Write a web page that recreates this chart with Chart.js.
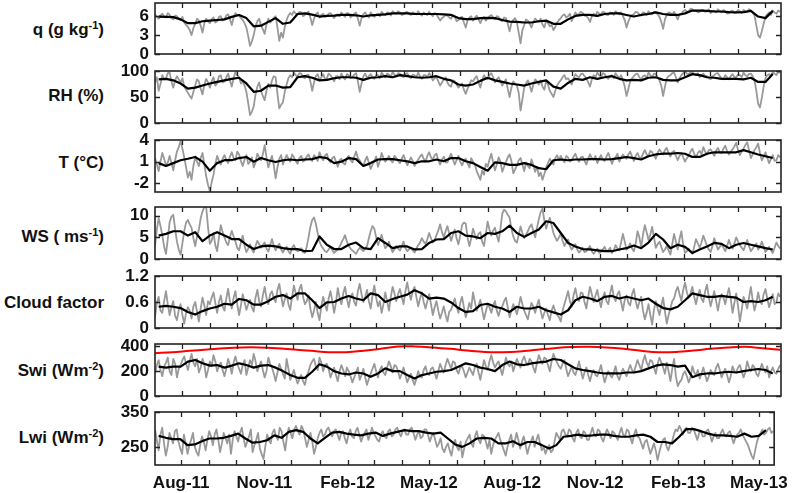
<!DOCTYPE html>
<html>
<head>
<meta charset="utf-8">
<title>Meteorological forcing time series</title>
<script src="https://cdn.jsdelivr.net/npm/chart.js@4.4.0/dist/chart.umd.min.js"></script>
<style>
  body {
    margin: 0;
    background: #fff;
    width: 796px;
    height: 493px;
    overflow: hidden;
    position: relative;
    font-family: "Liberation Sans", Arial, sans-serif;
  }
  canvas { position: absolute; left: 0; }
  .lbl {
    position: absolute;
    left: 0;
    width: 104px;
    text-align: right;
    font-weight: bold;
    font-size: 17px;
    line-height: 20px;
    color: #111;
    white-space: nowrap;
  }
  .lbl sup { font-size: 11px; line-height: 0; vertical-align: 6px; }
</style>
</head>
<body>
<div class="lbl" style="top:20px">q (g kg<sup>-1</sup>)</div>
<div class="lbl" style="top:86px">RH (%)</div>
<div class="lbl" style="top:153px">T (°C)</div>
<div class="lbl" style="top:227px">WS ( ms<sup>-1</sup>)</div>
<div class="lbl" style="top:293px">Cloud factor</div>
<div class="lbl" style="top:361px">Swi (Wm<sup>-2</sup>)</div>
<div class="lbl" style="top:428px">Lwi (Wm<sup>-2</sup>)</div>

<script>
// x values are days counted from 1 Jul 2011
const X_MIN = 2, X_MAX = 687;
const monthTickDays = [31, 62, 92, 123, 153, 184, 215, 244, 275, 305, 336, 366,
                       397, 428, 458, 489, 519, 550, 581, 609, 640, 670];
const monthTickLabels = ['Aug-11', '', '', 'Nov-11', '', '', 'Feb-12', '', '', 'May-12', '', '',
                         'Aug-12', '', '', 'Nov-12', '', '', 'Feb-13', '', '', 'May-13'];

// raw values every 2 days, running mean every 8 days, clear sky every 19 days
const GRAY_START = 2, GRAY_STEP = 2;
const MEAN_START = 6, MEAN_STEP = 8;
const CLEAR_START = 2, CLEAR_STEP = 19;

const qGray = [
  6.3,5.9,5.6,6.1,6.4,6.0,5.8,6.5,6.2,5.7,5.5,6.1,6.0,5.6,5.4,5.9,5.0,4.6,4.3,3.8,
  3.0,4.1,4.8,5.6,5.3,4.5,3.4,4.9,5.6,5.2,4.9,5.5,5.8,5.0,5.2,5.9,6.0,5.3,5.5,6.1,
  6.3,5.5,4.6,5.8,6.5,6.2,6.1,5.7,5.4,4.9,4.2,2.8,1.3,2.0,3.0,4.4,5.2,5.6,4.6,3.9,
  3.2,4.7,5.6,5.0,5.3,5.8,6.0,4.2,2.1,3.4,2.6,4.3,5.4,6.1,6.5,6.2,6.8,6.4,6.3,6.7,
  6.6,6.0,6.2,6.5,6.7,5.8,4.6,5.6,6.3,6.6,5.8,6.2,6.4,5.9,6.0,6.4,6.5,6.1,5.7,6.2,
  6.3,6.0,6.6,6.2,5.9,6.5,6.4,5.8,6.1,6.4,6.6,5.6,4.5,5.7,6.3,6.6,6.1,5.8,6.6,6.2,
  5.9,6.3,6.4,6.0,6.7,6.4,6.2,6.6,6.5,6.1,6.8,6.5,6.4,6.8,6.6,6.2,6.3,6.6,6.7,6.4,
  6.2,6.6,6.5,6.3,6.8,6.4,6.1,6.6,6.4,6.2,6.7,6.3,6.0,6.5,6.3,5.8,5.3,5.7,5.9,6.2,
  6.1,5.8,5.6,6.2,6.0,5.2,5.4,5.8,5.9,5.0,4.2,5.3,5.8,6.0,5.3,5.7,6.1,5.5,4.9,5.6,
  5.9,5.3,5.6,6.0,6.2,5.8,5.5,6.0,5.9,5.4,5.2,5.8,5.7,4.8,3.6,4.9,5.4,5.7,5.0,3.4,
  1.7,3.8,4.6,5.5,5.3,4.8,4.2,5.1,5.6,5.3,5.1,5.6,4.7,4.2,5.3,4.9,4.4,4.6,3.8,4.3,
  5.0,5.4,5.7,6.1,6.3,5.8,6.0,6.4,5.2,5.9,6.6,6.2,6.3,6.7,6.5,6.1,6.0,5.7,5.1,6.0,
  6.4,6.1,6.7,6.4,6.3,6.7,6.6,6.2,6.2,6.6,6.5,6.2,6.8,6.5,6.3,6.6,6.0,5.4,4.2,5.2,
  5.8,6.2,6.3,6.7,6.6,6.3,6.1,6.6,6.5,6.2,6.8,6.4,6.3,6.7,6.6,6.3,5.9,5.1,4.0,5.5,
  6.2,6.6,6.5,6.2,6.7,6.1,5.5,6.3,6.4,6.8,7.0,6.7,6.8,7.2,7.1,6.8,6.9,6.6,6.7,7.0,
  7.0,6.7,6.8,7.1,6.5,6.8,6.9,6.6,7.1,6.8,6.6,7.0,6.8,6.4,6.5,6.8,6.9,6.5,6.6,7.0,
  6.8,6.5,7.0,6.7,6.7,7.1,6.9,6.6,6.1,4.5,3.0,2.6,3.6,4.8,5.9,6.3,6.6,6.2,6.9,6.6,
  6.4,6.9,6.7];
const qMean = [5.95,5.9,5.85,5.5,4.9,4.9,5.2,5.3,5.4,5.5, 5.9,6.2,5.7,4.4,4.5,5.1,5.7,4.8,5.0,6.35,
  6.45,6.25,5.95,6.05,6.1,6.2,6.2,6.15,5.95,6.15, 6.2,6.3,6.45,6.45,6.45,6.35,6.35,6.35,6.35,6.3,
  6.2,5.7,5.55,5.55,5.7,5.75,5.7,5.4,5.15,5.1, 5.0,5.0,5.2,5.3,4.8,4.8,5.5,6.05,6.2,6.2,
  6.05,6.35,6.45,6.45,6.2,5.95,6.2,6.35,6.6,6.35, 6.2,6.2,6.45,6.9,6.9,6.85,6.75,6.75,6.65,6.6,
  6.65,6.85,5.95,5.7,6.85];

const rhGray = [
  78,88,62,75,92,84,85,96,97,80,68,82,90,84,78,86,70,64,58,52,
  47,60,72,84,80,66,55,74,85,78,68,80,88,72,76,90,92,78,80,88,
  95,82,70,86,98,92,88,76,80,72,60,38,15,22,32,55,70,78,62,52,
  44,62,75,68,82,90,88,56,28,35,40,60,74,86,92,88,97,92,90,96,
  95,88,86,92,93,80,62,78,90,94,82,88,94,84,86,95,92,86,80,90,
  90,84,95,88,84,94,92,86,88,93,96,80,60,76,90,95,86,90,94,88,
  85,92,92,86,97,92,88,95,93,88,98,93,90,96,95,90,88,94,96,90,
  86,93,92,88,97,90,85,92,92,88,96,90,82,86,88,80,72,78,84,88,
  78,72,70,82,80,74,68,72,76,64,56,66,74,82,80,86,90,78,68,82,
  92,86,84,92,96,88,78,84,88,80,72,78,84,66,50,68,80,76,72,58,
  24,45,68,76,82,72,60,74,84,80,74,82,70,64,80,74,62,56,50,62,
  72,78,82,88,92,84,86,80,74,86,94,90,88,94,95,90,86,78,70,84,
  92,88,97,92,88,96,94,88,85,90,92,86,96,90,86,92,82,70,52,66,
  80,86,90,94,95,88,84,90,92,86,97,92,88,95,94,88,82,72,52,70,
  86,90,92,96,97,88,78,86,92,96,99,95,94,98,98,94,92,96,88,92,
  95,90,90,86,84,90,92,95,96,90,86,84,92,88,84,90,94,88,88,93,
  92,88,97,92,90,94,95,90,82,62,37,30,48,70,86,92,94,90,98,95,
  92,98,96];
const rhMean = [84,85,82,76,66,68,72,76,79,82, 85,87,76,60,62,72,72,68,69,88,
  90,87,82,83,86,88,88,87,83,87, 88,90,88,92,90,88,87,88,90,85,
  82,74,72,74,81,87,82,79,76,74, 72,76,79,82,70,66,77,85,83,88,
  85,88,90,85,82,83,82,87,88,83, 82,82,88,94,92,88,87,85,85,85,
  84,87,79,79,94];

const tGray = [
  1.5,0.6,-0.3,1.0,2.2,1.4,0.5,0.9,1.8,0.8,-0.2,1.2,2.4,3.0,3.9,2.8,1.6,0.2,-1.2,-0.4,
  -1.5,0.4,1.6,1.0,0.4,1.5,2.2,0.6,-1.0,-2.2,-3.1,-1.9,-0.8,0.7,1.8,1.1,0.6,1.4,1.9,1.3,
  0.8,1.7,2.3,1.5,1.2,2.4,2.0,1.1,0.4,1.3,1.9,0.7,1.0,1.6,0.2,0.9,2.1,1.6,1.2,2.0,
  3.3,1.6,0.2,1.1,1.8,0.5,-1.3,0.2,1.4,1.9,0.6,1.3,1.9,1.4,1.0,2.0,1.6,1.1,0.7,1.5,
  1.8,1.0,1.2,1.7,2.0,1.4,1.1,1.9,1.6,1.1,2.3,1.6,1.2,1.8,2.1,1.3,0.9,1.5,1.7,1.0,
  0.3,1.2,1.4,0.8,0.6,1.5,1.8,1.2,0.9,1.7,2.4,1.5,1.2,0.7,0.4,1.2,1.7,0.8,0.0,0.6,
  1.1,1.7,0.3,1.1,2.2,1.5,1.0,1.4,1.8,1.2,0.9,1.8,1.5,1.1,0.8,1.4,1.9,1.2,0.5,1.0,
  1.6,1.1,0.4,0.9,1.3,1.7,2.0,1.4,1.0,1.8,2.3,1.6,1.3,1.9,2.1,1.2,0.6,1.3,1.7,0.9,
  0.9,1.6,2.1,1.3,0.6,1.2,1.8,1.0,0.5,1.1,1.4,0.8,0.2,1.5,1.0,0.6,-0.3,-0.9,-1.5,-0.2,
  -0.8,0.7,0.3,1.3,2.1,0.9,-0.2,0.6,1.6,1.0,-0.4,0.3,0.9,1.6,2.0,1.1,-0.6,-0.1,0.5,1.2,
  1.5,0.6,-0.3,0.9,0.4,0.1,1.3,0.5,-0.4,0.3,-1.0,-0.5,-1.5,-0.7,0.2,0.8,1.4,1.0,0.6,1.5,
  1.9,1.2,1.8,1.3,0.9,1.8,1.6,1.0,1.2,1.7,2.1,1.4,1.0,1.6,1.7,1.1,0.6,1.4,2.0,1.5,
  1.3,1.8,0.8,1.4,1.9,1.3,1.1,1.7,2.2,1.5,0.7,1.3,1.6,2.1,1.0,1.5,2.0,1.6,1.4,2.0,
  2.4,1.7,1.1,1.8,2.2,1.6,1.5,2.1,2.6,2.0,1.8,2.5,2.3,1.9,1.4,2.2,2.7,2.3,2.0,2.6,
  2.9,2.2,1.7,2.3,2.5,1.8,1.2,1.8,2.2,1.6,1.0,1.5,1.8,2.4,2.8,2.1,1.6,2.2,2.5,2.0,
  3.0,2.4,2.0,2.6,2.7,2.2,1.8,2.5,2.9,2.3,2.2,2.8,3.2,2.5,2.0,2.4,2.7,3.1,3.6,2.6,
  1.9,2.4,2.8,3.3,3.7,2.6,1.5,2.0,2.6,3.0,3.5,2.2,1.2,1.7,2.3,1.5,0.8,1.4,1.9,1.1,
  1.2,1.9,1.6];
const tMean = [0.8,0.4,0.8,1.2,1.4,1.65,1.0,-0.25,0.8,1.2, 1.2,1.5,1.65,1.0,1.5,1.2,0.95,1.2,1.3,1.2,
  1.3,1.35,1.65,1.5,0.8,1.0,1.5,1.35,0.4,0.8, 1.3,1.35,1.35,1.2,1.05,0.8,1.05,1.05,1.3,1.05,
  1.5,1.5,1.05,0.8,0.25,-0.25,0.9,0.8,0.55,0.55, 0.8,0.55,0.1,-0.05,1.2,1.3,1.2,1.3,1.3,1.35,
  1.35,1.3,1.35,1.5,1.65,1.5,1.3,1.75,2.0,2.1, 2.1,2.2,2.1,1.65,1.65,2.1,2.3,2.3,2.3,2.3,
  2.6,2.3,2.0,1.75,1.5];

const wsGray = [
  3.0,6.8,9.4,7.6,5.5,2.8,1.2,4.6,8.5,9.8,10.2,7.0,4.0,2.2,1.0,3.6,6.5,8.4,9.0,8.0,
  7.2,4.8,3.0,5.2,6.8,9.4,11.0,12.0,12.0,7.4,3.5,4.2,6.0,3.2,1.8,5.0,7.8,6.2,5.0,3.8,
  3.2,5.0,6.5,5.2,4.0,2.6,2.0,3.8,5.4,3.0,1.6,2.4,3.4,2.2,1.5,3.0,4.2,3.4,2.6,3.2,
  3.8,2.4,1.7,3.2,4.6,3.0,2.0,2.8,3.5,2.2,1.5,2.4,2.8,1.8,1.2,2.6,3.2,2.2,1.8,2.0,
  2.5,1.6,1.4,2.8,5.0,7.4,9.0,9.6,8.2,6.0,4.0,3.0,2.4,1.8,1.6,2.2,2.8,2.0,1.4,1.8,
  2.2,2.8,3.8,4.6,5.5,4.0,3.0,2.4,2.0,1.6,1.2,2.0,2.6,2.2,1.8,2.4,3.0,4.8,6.4,7.6,
  7.0,5.0,3.2,4.4,5.6,3.8,2.5,3.0,4.0,2.6,1.6,2.2,3.0,2.4,2.0,3.0,4.0,2.6,1.8,2.2,
  2.6,2.0,1.5,2.4,3.2,3.8,4.8,4.0,3.5,4.6,6.0,4.8,3.8,4.4,5.5,6.6,8.0,6.2,5.0,6.4,
  7.6,5.8,4.2,5.6,6.8,4.8,3.4,5.4,7.8,8.4,8.2,5.0,3.0,4.8,7.0,5.6,4.6,5.8,6.2,4.0,
  3.0,5.8,8.6,6.8,5.4,6.6,7.2,5.4,4.0,7.0,10.4,11.4,11.0,10.2,9.6,7.0,5.2,4.2,3.8,5.6,
  7.5,6.0,4.8,5.6,6.4,7.4,8.0,6.4,5.0,7.2,9.2,10.8,11.6,9.0,7.0,8.4,9.5,7.8,6.0,5.0,
  4.2,5.0,5.8,4.2,3.0,3.8,4.5,3.0,2.2,2.8,3.4,2.2,1.5,2.0,2.6,1.6,1.8,2.4,3.0,1.8,
  1.2,1.8,2.4,1.4,1.6,2.2,2.8,1.8,2.0,2.6,1.4,2.0,3.2,2.4,2.0,3.8,5.8,4.0,2.2,2.8,
  3.6,2.4,1.8,3.6,6.4,5.0,2.8,5.6,7.8,6.2,4.4,5.6,7.4,5.0,2.6,3.4,4.0,2.8,1.6,2.2,
  3.0,2.0,1.0,3.4,5.8,4.0,2.2,4.6,6.4,3.2,1.4,1.8,2.4,1.6,1.2,2.8,4.6,3.6,2.6,3.8,
  5.4,4.2,3.0,2.2,1.6,3.0,4.8,3.4,2.2,2.8,3.4,2.6,1.8,3.0,4.4,3.2,2.4,3.6,5.0,4.0,
  3.2,2.6,2.0,3.2,4.4,3.0,1.8,2.4,3.0,3.6,2.2,2.8,4.0,2.8,1.6,2.2,2.8,2.0,1.4,2.6,
  3.8,3.0,2.4];
const wsMean = [5.4,5.8,6.4,6.4,5.4,6.2,4.1,5.4,6.2,5.4, 4.6,4.6,3.3,2.3,2.9,3.1,2.9,2.5,2.3,2.3,
  1.8,1.9,5.2,3.3,2.3,2.3,3.3,3.8,2.5,2.3, 4.8,3.7,2.5,2.9,2.9,2.2,2.3,3.7,4.5,4.6,
  6.0,6.4,5.4,5.2,4.8,6.0,5.8,6.4,7.7,6.0, 5.1,6.0,6.8,8.7,8.3,6.0,3.7,2.9,2.3,2.2,
  2.0,1.8,1.8,2.2,2.5,3.1,2.5,3.8,5.8,4.5, 2.5,3.3,2.8,1.4,2.2,2.9,3.7,3.5,2.5,3.3,
  3.7,3.3,2.9,2.5,2.2];

const cloudGray = [
  0.25,0.58,0.72,0.40,0.35,0.62,0.85,0.55,0.30,0.48,0.62,0.28,0.18,0.42,0.55,0.30,0.10,0.35,0.48,0.40,
  0.22,0.50,0.60,0.38,0.15,0.45,0.70,0.52,0.30,0.62,0.55,0.70,0.82,0.58,0.35,0.60,0.75,0.50,0.40,0.68,
  0.90,0.62,0.45,0.70,0.85,0.55,0.30,0.52,0.78,0.60,0.42,0.55,0.65,0.48,0.38,0.70,0.88,0.62,0.50,0.75,
  0.95,0.70,0.55,0.78,0.85,0.68,0.60,0.88,1.02,0.75,0.50,0.66,0.80,0.55,0.42,0.72,0.98,0.80,0.65,0.90,
  1.00,0.72,0.55,0.62,0.75,0.45,0.25,0.40,0.60,0.35,0.18,0.50,0.72,0.55,0.40,0.68,0.85,0.62,0.35,0.58,
  0.92,0.70,0.55,0.80,0.95,0.68,0.48,0.72,0.80,0.60,0.52,0.85,1.02,0.78,0.60,0.72,0.88,0.62,0.45,0.75,
  0.98,0.70,0.50,0.62,0.35,0.55,0.82,0.62,0.40,0.72,0.95,0.80,0.62,0.78,0.90,0.72,0.55,0.85,1.05,0.82,
  0.65,0.85,0.95,0.72,0.50,0.68,0.82,0.60,0.45,0.62,0.78,0.55,0.30,0.48,0.62,0.40,0.22,0.35,0.50,0.30,
  0.15,0.38,0.42,0.55,0.68,0.50,0.35,0.58,0.72,0.48,0.25,0.40,0.58,0.45,0.82,0.60,0.40,0.52,0.65,0.42,
  0.20,0.38,0.55,0.48,0.35,0.52,0.62,0.40,0.28,0.45,0.50,0.62,0.70,0.48,0.25,0.40,0.55,0.45,0.32,0.50,
  0.72,0.55,0.40,0.30,0.20,0.42,0.58,0.48,0.35,0.52,0.65,0.40,0.22,0.35,0.45,0.30,0.18,0.40,0.52,0.38,
  0.30,0.25,0.15,0.40,0.55,0.70,0.85,0.62,0.50,0.75,0.92,0.70,0.62,0.82,0.80,0.60,0.45,0.72,0.95,0.78,
  0.60,0.75,0.88,0.65,0.48,0.70,0.82,0.62,0.55,0.80,0.98,0.72,0.62,0.78,0.85,0.60,0.40,0.65,0.75,0.58,
  0.52,0.78,0.90,0.62,0.45,0.60,0.72,0.40,0.20,0.35,0.55,0.30,0.08,0.42,0.62,0.45,0.30,0.52,0.70,0.38,
  0.10,0.30,0.45,0.62,0.68,0.85,0.95,0.78,0.62,0.88,1.05,0.82,0.70,0.80,0.95,0.72,0.55,0.75,0.88,0.68,
  0.60,0.85,1.00,0.72,0.50,0.68,0.85,0.62,0.40,0.65,0.78,0.70,0.55,0.75,0.92,0.68,0.35,0.58,0.80,0.50,
  0.15,0.42,0.72,0.60,0.45,0.70,0.95,0.65,0.40,0.58,0.82,0.62,0.55,0.78,0.90,0.68,0.48,0.62,0.78,0.55,
  0.60,0.80,0.72];
const cloudMean = [0.49,0.51,0.49,0.46,0.37,0.31,0.39,0.45,0.49,0.56, 0.54,0.67,0.64,0.54,0.54,0.62,0.72,0.76,0.68,0.80,
  0.80,0.64,0.46,0.59,0.60,0.68,0.74,0.68,0.64,0.80, 0.76,0.60,0.67,0.72,0.77,0.87,0.80,0.68,0.70,0.68,
  0.59,0.46,0.37,0.39,0.53,0.56,0.49,0.45,0.37,0.49, 0.45,0.45,0.49,0.41,0.36,0.31,0.41,0.64,0.72,0.68,
  0.62,0.72,0.74,0.68,0.72,0.68,0.64,0.68,0.56,0.46, 0.43,0.49,0.64,0.80,0.76,0.72,0.72,0.74,0.72,0.70,
  0.60,0.62,0.60,0.64,0.72];

const swiGray = [
  180,250,290,210,160,240,270,310,200,170,300,260,150,220,250,290,320,260,210,280,
  340,270,240,300,190,230,300,250,150,210,280,240,330,280,200,240,270,210,160,220,
  300,250,180,270,320,260,220,180,250,290,170,230,290,250,340,280,200,240,280,210,
  150,200,310,260,230,180,120,190,260,220,180,140,300,220,130,170,210,150,100,140,
  170,120,90,160,200,250,280,300,240,210,310,270,200,250,260,220,150,190,230,170,
  120,200,250,210,160,230,200,160,110,150,190,230,130,170,220,150,90,140,180,220,
  260,200,150,210,240,190,170,230,280,240,190,250,240,200,140,180,230,170,110,150,
  180,130,90,140,200,160,150,210,240,180,170,220,230,190,140,200,260,220,190,250,
  300,260,220,280,270,210,180,230,240,200,150,190,230,200,170,230,260,190,130,210,
  290,240,210,280,330,270,230,260,280,220,170,240,310,260,240,280,200,250,300,260,
  230,290,320,270,250,300,280,230,190,270,330,290,260,310,300,250,200,280,340,300,
  270,240,220,260,290,220,160,200,240,190,170,220,280,210,140,190,230,170,120,180,
  210,170,160,200,250,180,110,160,200,170,150,190,240,160,130,180,220,190,160,210,
  250,210,190,240,290,250,210,280,330,270,240,290,280,230,180,260,310,270,230,180,
  270,200,120,220,300,160,80,110,130,180,200,160,110,150,240,190,170,210,140,180,
  230,170,120,160,210,180,170,230,260,210,150,190,220,170,110,160,240,200,190,230,
  250,200,150,190,280,230,200,250,230,180,160,210,260,220,190,240,150,200,230,190,
  180,220,250];
const swiMean = [237,229,237,237,278,291,264,245,250,229, 245,264,250,229,245,250,229,201,169,147,
  147,196,256,237,201,182,174,190,182,155, 182,223,201,201,169,141,169,182,196,201,
  210,237,264,250,229,218,201,250,278,256, 250,264,272,278,299,291,256,223,210,201,
  190,182,182,182,190,190,201,223,245,256, 250,237,245,152,174,182,182,190,196,190,
  201,210,218,210,182];
const swiClear = [346,354,365,375,386,392,392,386,375,365, 354,354,365,381,400,400,392,381,367,356,
  354,359,373,386,395,397,392,381,365,354, 356,367,381,392,397,386,373];

const lwiGray = [
  300,270,240,285,305,260,225,250,290,275,260,295,300,265,245,230,285,260,230,255,
  270,290,250,235,225,255,280,265,240,270,295,280,255,285,300,270,235,260,290,275,
  260,285,230,270,295,280,265,290,305,275,250,265,280,300,235,255,270,290,245,230,
  215,250,285,270,260,290,300,280,270,305,295,265,240,280,305,290,275,300,310,295,
  285,310,300,275,250,270,290,265,230,250,275,290,300,280,285,300,305,290,280,295,
  300,285,270,290,295,275,260,285,300,280,275,295,305,285,265,280,290,300,270,285,
  305,290,280,270,265,285,295,280,275,295,300,280,285,300,305,290,280,295,300,285,
  285,300,305,290,270,285,295,275,280,300,300,285,265,280,290,270,250,260,275,245,
  235,250,260,240,225,255,270,250,240,265,220,245,265,275,285,260,250,280,295,270,
  260,285,280,265,245,270,230,255,270,280,290,270,255,240,225,250,270,285,250,265,
  290,270,245,265,280,255,230,250,265,280,250,270,285,260,240,250,230,245,255,235,
  240,265,290,280,270,295,300,285,280,300,295,275,265,290,300,280,275,295,290,270,
  270,290,305,285,280,300,295,275,265,285,300,290,275,295,290,280,270,290,305,285,
  280,300,295,275,260,285,300,280,275,260,245,265,270,250,230,245,260,240,212,235,
  255,270,275,250,240,260,265,285,300,295,310,300,285,300,305,290,290,305,300,285,
  270,290,295,280,280,295,300,285,265,280,290,275,275,290,300,285,280,290,295,280,
  260,275,285,290,300,285,275,265,255,240,225,215,240,265,280,290,300,285,290,300,
  305,290,295];
const lwiMean = [281.5,276,272,272,255,257,266,274,274,276, 281.5,288,274,262,264,269,283,276,293,298,
  293,274,260,276,291,293,288,285,283,288, 291,281.5,288,293,298,295,295,291,288,291,
  274,257,250,260,274,276,274,260,260,266, 255,264,264,255,245,255,279,281.5,285,281.5,
  283,285,285,281.5,279,279,283,285,279,264, 264,260,279,301,301,295,288,283,283,281.5,
  279,288,279,281.5,298];

function series(start, step, values) {
    return values.map((v, i) => ({ x: start + i * step, y: v }));
}

// panel boxes in page pixels
const panels = [
    { top: 3,   bottom: 54,  min: 0,    max: 8.1, ticks: [0, 3, 6],     gray: qGray,     mean: qMean },
    { top: 71,  bottom: 123, min: 0,    max: 100, ticks: [0, 50, 100],  gray: rhGray,    mean: rhMean },
    { top: 140, bottom: 192, min: -3.2, max: 4,   ticks: [-2, 1, 4],    gray: tGray,     mean: tMean },
    { top: 207, bottom: 259, min: 0,    max: 12,  ticks: [0, 5, 10],    gray: wsGray,    mean: wsMean },
    { top: 276, bottom: 328, min: 0,    max: 1.2, ticks: [0, 0.6, 1.2], gray: cloudGray, mean: cloudMean },
    { top: 344, bottom: 396, min: 0,    max: 420, ticks: [0, 200, 400], gray: swiGray,   mean: swiMean, clear: swiClear },
    { top: 412, bottom: 465, min: 198,  max: 350, ticks: [250, 350],    gray: lwiGray,   mean: lwiMean }
];

const tickFont = { family: '"Liberation Sans", Arial, sans-serif', size: 17, weight: 'bold' };

// box around the plot area plus inward tick marks
const framePlugin = {
    id: 'frame',
    afterDatasetsDraw(chart) {
        const { ctx, chartArea: a, scales } = chart;
        ctx.save();
        ctx.strokeStyle = '#222';
        ctx.lineWidth = 1.3;
        ctx.beginPath();
        monthTickDays.forEach(d => {
            const x = Math.round(scales.x.getPixelForValue(d)) + 0.5;
            ctx.moveTo(x, a.top); ctx.lineTo(x, a.top + 5);
            ctx.moveTo(x, a.bottom); ctx.lineTo(x, a.bottom - 5);
        });
        scales.y.ticks.forEach(t => {
            const y = Math.round(scales.y.getPixelForValue(t.value)) + 0.5;
            ctx.moveTo(a.left, y); ctx.lineTo(a.left + 5, y);
            ctx.moveTo(a.right, y); ctx.lineTo(a.right - 5, y);
        });
        ctx.stroke();
        ctx.lineWidth = 1.6;
        ctx.strokeRect(a.left, a.top, a.right - a.left, a.bottom - a.top);
        ctx.restore();
    }
};

panels.forEach((p, n) => {
    const last = n === panels.length - 1;
    // room for half a tick label plus its padding, so the plot box keeps its size
    const padTop = 20;
    const padBottom = last ? 0 : 20;
    const xAxisH = last ? 28 : 0;

    const canvas = document.createElement('canvas');
    canvas.width = 796;
    canvas.height = padTop + (p.bottom - p.top) + padBottom + xAxisH;
    canvas.style.top = (p.top - padTop) + 'px';
    document.body.appendChild(canvas);

    const datasets = [
        { data: series(GRAY_START, GRAY_STEP, p.gray), borderColor: '#999999', borderWidth: 1.8, order: 3 },
        { data: series(MEAN_START, MEAN_STEP, p.mean), borderColor: '#000000', borderWidth: 2.2, order: 2 }
    ];
    if (p.clear) {
        datasets.push({ data: series(CLEAR_START, CLEAR_STEP, p.clear), borderColor: '#ff0000',
                        borderWidth: 2, order: 1, tension: 0.4 });
    }

    new Chart(canvas.getContext('2d'), {
        type: 'line',
        data: { datasets: datasets },
        options: {
            responsive: false,
            animation: false,
            events: [],
            layout: { padding: { top: padTop, bottom: padBottom, left: 0, right: 15 } },
            elements: { point: { radius: 0 }, line: { tension: 0, borderJoinStyle: 'round' } },
            plugins: { legend: { display: false }, tooltip: { enabled: false } },
            scales: {
                x: {
                    type: 'linear',
                    min: X_MIN,
                    max: X_MAX,
                    display: last,
                    grid: { display: false, drawTicks: false },
                    border: { display: false },
                    afterBuildTicks: axis => { axis.ticks = monthTickDays.map(v => ({ value: v })); },
                    afterFit: axis => { axis.height = xAxisH; },
                    ticks: {
                        autoSkip: false,
                        maxRotation: 0,
                        padding: 8,
                        color: '#111',
                        font: tickFont,
                        callback: (v, i) => monthTickLabels[i]
                    }
                },
                y: {
                    min: p.min,
                    max: p.max,
                    grid: { display: false, drawTicks: false },
                    border: { display: false },
                    afterBuildTicks: axis => { axis.ticks = p.ticks.map(v => ({ value: v })); },
                    afterFit: axis => { axis.width = 155; },
                    ticks: {
                        padding: 6,
                        color: '#111',
                        font: tickFont,
                        callback: v => String(v)
                    }
                }
            }
        },
        plugins: [framePlugin]
    });
});
</script>
</body>
</html>
